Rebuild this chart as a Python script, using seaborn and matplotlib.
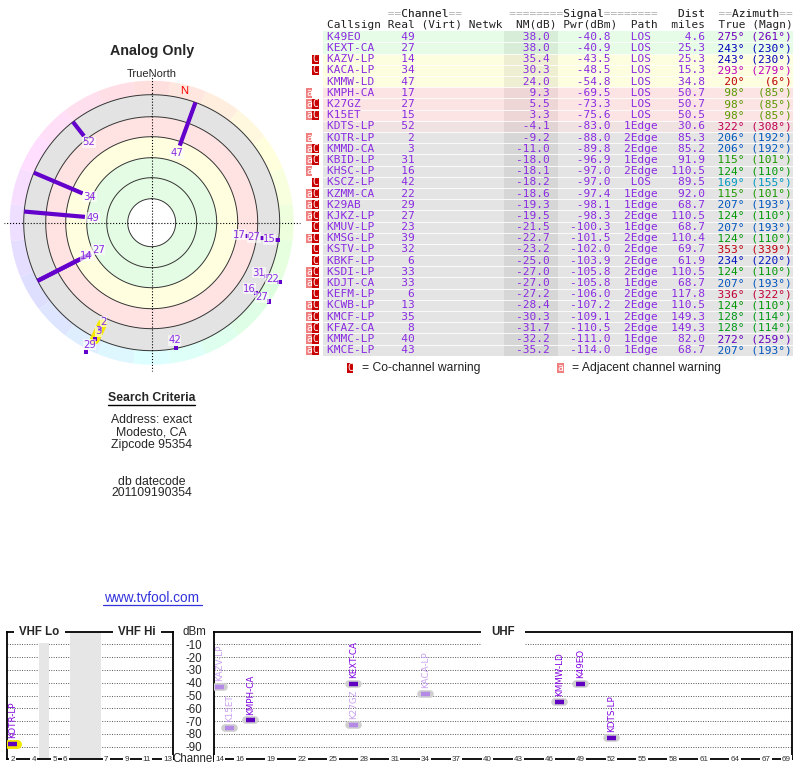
import numpy as np
import matplotlib
matplotlib.use("Agg")
import matplotlib.pyplot as plt
import matplotlib.colors as mcolors
from matplotlib.patches import Rectangle
import seaborn as sns

# Station table (tvfool report, Modesto CA)
callsigns = ["K49EO", "KEXT-CA", "KAZV-LP", "KACA-LP", "KMMW-LD", "KMPH-CA", "K27GZ", "K15ET",
             "KDTS-LP", "KOTR-LP", "KMMD-CA", "KBID-LP", "KHSC-LP", "KSCZ-LP", "KZMM-CA", "K29AB",
             "KJKZ-LP", "KMUV-LP", "KMSG-LP", "KSTV-LP", "KBKF-LP", "KSDI-LP", "KDJT-CA", "KEFM-LP",
             "KCWB-LP", "KMCF-LP", "KFAZ-CA", "KMMC-LP", "KMCE-LP"]
real_ch = [49, 27, 14, 34, 47, 17, 27, 15, 52, 2, 3, 31, 16, 42, 22, 29, 27, 23, 39, 32, 6, 33, 33,
           6, 13, 35, 8, 40, 43]
nm_db = [38.0, 38.0, 35.4, 30.3, 24.0, 9.3, 5.5, 3.3, -4.1, -9.2, -11.0, -18.0, -18.1, -18.2, -18.6,
         -19.3, -19.5, -21.5, -22.7, -23.2, -25.0, -27.0, -27.0, -27.2, -28.4, -30.3, -31.7, -32.2, -35.2]
pwr_dbm = [-40.8, -40.9, -43.5, -48.5, -54.8, -69.5, -73.3, -75.6, -83.0, -88.0, -89.8, -96.9, -97.0,
           -97.0, -97.4, -98.1, -98.3, -100.3, -101.5, -102.0, -103.9, -105.8, -105.8, -106.0, -107.2,
           -109.1, -110.5, -111.0, -114.0]
path = ["LOS"] * 8 + ["1Edge", "2Edge", "2Edge", "1Edge", "2Edge", "LOS", "1Edge", "1Edge", "2Edge",
                      "1Edge", "2Edge", "2Edge", "2Edge", "2Edge", "1Edge", "2Edge", "2Edge", "2Edge",
                      "2Edge", "1Edge", "1Edge"]
dist_mi = [4.6, 25.3, 25.3, 15.3, 34.8, 50.7, 50.7, 50.5, 30.6, 85.3, 85.2, 91.9, 110.5, 89.5, 92.0,
           68.7, 110.5, 68.7, 110.4, 69.7, 61.9, 110.5, 68.7, 117.8, 110.5, 149.3, 149.3, 82.0, 68.7]
az_true = [275, 243, 243, 293, 20, 98, 98, 98, 322, 206, 206, 115, 124, 169, 115, 207, 124, 207, 124,
           353, 234, 124, 207, 336, 124, 128, 128, 272, 207]
az_magn = [261, 230, 230, 279, 6, 85, 85, 85, 308, 192, 192, 101, 110, 155, 101, 193, 110, 193, 110,
           339, 220, 110, 193, 322, 110, 114, 114, 259, 193]
adj_warn = [0, 0, 0, 0, 0, 1, 1, 1, 0, 1, 1, 1, 1, 0, 1, 1, 1, 0, 1, 0, 0, 1, 1, 0, 1, 1, 1, 1, 1]
co_warn = [0, 0, 1, 1, 0, 0, 1, 1, 0, 0, 1, 1, 0, 1, 1, 1, 1, 1, 1, 1, 1, 1, 1, 1, 1, 1, 1, 1, 1]

# polar chart: first 17 stations, mark radius (outer ring = 128) and whether a tail is drawn
polar_r = [67, 68, 81, 75, 82, 96, 111, 127, 110, 118, 129, 126, 126, 128, 141, 145, 141]
polar_tail = [1, 1, 1, 1, 1, 0, 0, 0, 1, 0, 0, 0, 0, 0, 0, 0, 0]
highlight = "KOTR-LP"

# spectrum chart: first 10 stations
spec_n = 10
vhf_ticks = [2, 4, 5, 6, 7, 9, 11, 13]
uhf_ticks = [14] + list(range(16, 68, 3)) + [69]
dbm_ticks = [-10, -20, -30, -40, -50, -60, -70, -80, -90]

search_lines = ["Address: exact", "Modesto, CA", "Zipcode 95354"]
db_lines = ["db datecode", "201109190354"]

sns.set_theme(style="white")
plt.rcParams['font.family'] = ['Liberation Sans', 'DejaVu Sans']

W, H = 800, 768
fig = plt.figure(figsize=(8, 7.68), dpi=100)


def px_axes(x0, y0, x1, y1, **kw):
    return fig.add_axes([x0 / W, 1 - y1 / H, (x1 - x0) / W, (y1 - y0) / H], **kw)


def az_color(az):
    # bearing -> text hue, roughly as on the tvfool page
    hue = np.interp(az, [0, 20, 98, 124, 169, 206, 243, 275, 293, 322, 360],
                    [0, 0, 85, 122, 192, 212, 240, 275, 300, 335, 360]) / 360
    val = 0.6 if 60 < az < 140 else 0.75
    return mcolors.hsv_to_rgb((hue % 1, 1.0, val))


PURPLE = "#8a2be2"
MONO = "DejaVu Sans Mono"

# ---------- free text (pixel coordinates) ----------
ax_bg = px_axes(0, 0, W, H)
ax_bg.set_xlim(0, W)
ax_bg.set_ylim(H, 0)
ax_bg.set_axis_off()
ax_bg.text(151.7, 51, "Analog Only", ha="center", va="center", fontsize=10.3, weight="bold")
ax_bg.text(151.7, 74.3, "TrueNorth", ha="center", va="center", fontsize=8)
ax_bg.text(151.7, 397.7, "Search Criteria", ha="center", va="center", fontsize=8.8, weight="bold")
ax_bg.plot([108.3, 195], [404.6, 404.6], color="black", lw=1)
for k, s in enumerate(search_lines):
    ax_bg.text(151.7, 420 + 12.5 * k, s, ha="center", va="center", fontsize=8.8)
for k, s in enumerate(db_lines):
    ax_bg.text(151.7, 481.7 + 11.8 * k, s, ha="center", va="center", fontsize=8.8)
ax_bg.text(151.7, 597.5, "www.tvfool.com", ha="center", va="center", fontsize=9.8, color="#3333dd")
ax_bg.plot([102.7, 201.7], [604.5, 604.5], color="#3333dd", lw=0.9)

# ---------- polar chart ----------
ax_p = px_axes(1.7, 72.7, 301.7, 372.7, projection="polar")
ax_p.set_theta_zero_location("N")
ax_p.set_theta_direction(-1)
ax_p.set_ylim(0, 150)
ax_p.set_axis_off()

seg = np.arange(0, 360, 15)
ax_p.bar(np.deg2rad(seg), 14, width=np.deg2rad(15), bottom=128,
         color=[mcolors.hsv_to_rgb((a / 360, 0.13, 1.0)) for a in seg], edgecolor="none")
for r0, r1, c in [(106, 128, "#e3e3e3"), (86, 106, "#ffe2e2"), (65, 86, "#ffffe0"), (24, 65, "#e4fce4")]:
    ax_p.bar(0, r1 - r0, width=2 * np.pi, bottom=r0, color=c, edgecolor="none", align="edge")
th = np.linspace(0, 2 * np.pi, 361)
for r in [24, 45, 65, 86, 106, 128]:
    ax_p.plot(th, np.full_like(th, r), color="#333333", lw=0.7)
for a in [0, 90, 180, 270]:
    ax_p.plot([np.deg2rad(a)] * 2, [0, 148], color="black", lw=0.8, ls=":", clip_on=False)

decl = az_true[0] - az_magn[0]
ax_p.text(np.deg2rad(decl), 136, "N", color="red", fontsize=8, ha="center", va="center")

n_pol = len(polar_r)
theta = np.deg2rad(az_true[:n_pol])
for i in range(n_pol):
    if callsigns[i] == highlight:
        ax_p.plot([theta[i]] * 2, [polar_r[i] - 5, polar_r[i] + 12], color="#f5e800", lw=7,
                  solid_capstyle="round", zorder=3)
    if polar_tail[i]:
        ax_p.plot([theta[i]] * 2, [polar_r[i], 128], color="#6400cc", lw=3,
                  solid_capstyle="butt", zorder=4)
dots = [i for i in range(n_pol) if not polar_tail[i]]
sns.scatterplot(x=theta[dots], y=np.array(polar_r)[dots], ax=ax_p, marker="s", s=9,
                color="#6400cc", edgecolor="none", legend=False, zorder=5)
for i in range(n_pol):
    ax_p.text(theta[i], polar_r[i] - 8, str(real_ch[i]), ha="center", va="center", fontsize=7.3,
              family="DejaVu Sans", color=PURPLE, zorder=6,
              bbox=dict(boxstyle="square,pad=0.05", fc="white", ec="none", alpha=0.6))

# ---------- station table ----------
n_rows = len(callsigns)
ax_t = px_axes(0, 31.3, W, 355.8)
ax_t.set_xlim(0, W)
ax_t.set_ylim(n_rows, 0)
ax_t.set_axis_off()


def row_color(nm):
    if nm >= 36.5:
        return "#e6fce6"
    if nm >= 15:
        return "#fdfde0"
    if nm >= 0:
        return "#fde4e4"
    if nm >= -5:
        return "#f1e2e2"
    return "#e4e4e4"


x0, cw = 326.7, 6.74
for i in range(n_rows):
    ax_t.add_patch(Rectangle((323, i), 470, 1, fc=row_color(nm_db[i]), ec="none"))
ax_t.add_patch(Rectangle((504, 0), 53.7, n_rows, fc="black", alpha=0.06, ec="none"))
ax_t.hlines(np.arange(1, n_rows), 323, 793, color="white", lw=0.6)

for i in range(n_rows):
    y = i + 0.5
    main = (f"{callsigns[i]:<9}{real_ch[i]:>4}{nm_db[i]:>20.1f}{pwr_dbm[i]:>9.1f}  "
            f"{path[i]:^5}{dist_mi[i]:>7.1f}")
    ax_t.text(x0, y, main, family=MONO, fontsize=8.05, color=PURPLE, va="center", ha="left")
    azs = f"{az_true[i]:>5}°" + f"{'(' + str(az_magn[i]) + '°)':>7}"
    ax_t.text(x0 + 56 * cw, y, azs, family=MONO, fontsize=8.05, color=az_color(az_true[i]),
              va="center", ha="left")
    if adj_warn[i]:
        ax_t.add_patch(Rectangle((306, i + 0.08), 6.3, 0.84, fc="#f08080", ec="none"))
        ax_t.text(309.2, y, "a", family=MONO, fontsize=7, color="white", ha="center", va="center")
    if co_warn[i]:
        ax_t.add_patch(Rectangle((312.3, i + 0.08), 6.7, 0.84, fc="#c80000", ec="none"))
        ax_t.text(315.7, y, "C", family=MONO, fontsize=7, color="white", ha="center", va="center")

head1 = " " * 9 + "==Channel==" + " " * 7 + "========Signal========" + "   Dist  " + "==Azimuth=="
head2 = "Callsign Real (Virt) Netwk  NM(dB) Pwr(dBm)  Path  miles  True (Magn)"
ax_t.text(x0, -1.55, head1, family=MONO, fontsize=8.05, color="#b0b0b0", va="center", clip_on=False)
ax_t.text(x0, -1.55, head1.replace("=", " "), family=MONO, fontsize=8.05, color="#222222",
          va="center", clip_on=False)
ax_t.text(x0, -0.55, head2, family=MONO, fontsize=8.05, color="#222222", va="center", clip_on=False)

ly = 30.06
ax_t.add_patch(Rectangle((346.7, ly - 0.45), 6.6, 0.9, fc="#c80000", ec="none", clip_on=False))
ax_t.text(350, ly, "C", family=MONO, fontsize=7, color="white", ha="center", va="center")
ax_t.text(361.7, ly, "= Co-channel warning", fontsize=8.7, color="#222222", va="center", clip_on=False)
ax_t.add_patch(Rectangle((557.3, ly - 0.45), 6.6, 0.9, fc="#f08080", ec="none", clip_on=False))
ax_t.text(560.6, ly, "a", family=MONO, fontsize=7, color="white", ha="center", va="center")
ax_t.text(571.7, ly, "= Adjacent channel warning", fontsize=8.7, color="#222222", va="center",
          clip_on=False)

# ---------- spectrum ----------
def vhf_center(ch):
    if ch <= 4:
        return 57 + 6 * (ch - 2)
    if ch <= 6:
        return 79 + 6 * (ch - 5)
    return 177 + 6 * (ch - 7)


fb = [54, 72, 76, 88, 174, 216]
pb = [0, 31.9, 42.0, 63.0, 93.7, 165.4]

ax_v = px_axes(7.3, 631.7, 172.7, 759.3)
ax_u = px_axes(214.3, 631.7, 791.7, 759.3)
ax_v.set_xscale("function", functions=(lambda f: np.interp(f, fb, pb), lambda p: np.interp(p, pb, fb)))
ax_v.set_xlim(54, 216)
ax_u.set_xlim(13.5, 69.5)
ax_v.axvspan(72, 76, color="#e6e6e6", lw=0)
ax_v.axvspan(88, 174, color="#e6e6e6", lw=0)

for ax in (ax_v, ax_u):
    ax.set_ylim(-100, 0)
    ax.set_yticks(dbm_ticks)
    ax.set_xticks([])
    ax.grid(axis="y", color="#555555", lw=0.7, ls=(0, (1, 1.5)))
    ax.tick_params(length=0)
    for s in ax.spines.values():
        s.set_color("black")
        s.set_linewidth(1.3)
    ax.set_facecolor("white")
ax_v.set_yticklabels([])
ax_u.set_yticklabels([str(t) for t in dbm_ticks], fontsize=8.3)
ax_u.tick_params(axis="y", pad=9)

tick_box = dict(boxstyle="square,pad=0.15", fc="white", ec="none")
for t in vhf_ticks:
    ax_v.text(vhf_center(t), -100, str(t), ha="center", va="center", fontsize=5.8, color="#333333",
              bbox=tick_box, clip_on=False)
for t in uhf_ticks:
    ax_u.text(t, -100, str(t), ha="center", va="center", fontsize=5.8, color="#333333",
              bbox=tick_box, clip_on=False)

title_box = dict(boxstyle="square,pad=0.45", fc="white", ec="none")
ax_v.text(0.193, 1.0, "VHF Lo", transform=ax_v.transAxes, ha="center", va="center", fontsize=8.3,
          weight="bold", bbox=title_box, clip_on=False)
ax_v.text(0.785, 1.0, "VHF Hi", transform=ax_v.transAxes, ha="center", va="center", fontsize=8.3,
          weight="bold", bbox=title_box, clip_on=False)
ax_u.text(0.5, 1.0, "UHF", transform=ax_u.transAxes, ha="center", va="center", fontsize=8.3,
          weight="bold", bbox=dict(boxstyle="square,pad=0.9", fc="white", ec="none"), clip_on=False)
ax_bg.text(194, 631.7, "dBm", ha="center", va="center", fontsize=8.3)
ax_bg.text(193.8, 759.3, "Channel", ha="center", va="center", fontsize=8.3)

for i in range(spec_n):
    ch, y = real_ch[i], pwr_dbm[i]
    if ch <= 13:
        ax, x, hw = ax_v, vhf_center(ch), 2.6
    else:
        ax, x, hw = ax_u, ch, 0.45
    bar_c = "#b48ae6" if co_warn[i] else "#6000c0"
    lab_c = "#c8a0f0" if co_warn[i] else "#8000e0"
    if callsigns[i] == highlight:
        ax.hlines(y, x - hw, x + hw, colors="#f5e800", lw=6.5, capstyle="round", zorder=3)
    else:
        ax.hlines(y, x - hw, x + hw, colors="#cfcfcf", lw=5.5, capstyle="round", zorder=3)
    ax.hlines(y, x - hw, x + hw, colors=bar_c, lw=3.2, zorder=4)
    ax.text(x, y + 4.5, callsigns[i], rotation=90, ha="center", va="bottom", fontsize=6.3,
            family="DejaVu Sans", color=lab_c, zorder=5)

fig.savefig("out.png", dpi=100)
